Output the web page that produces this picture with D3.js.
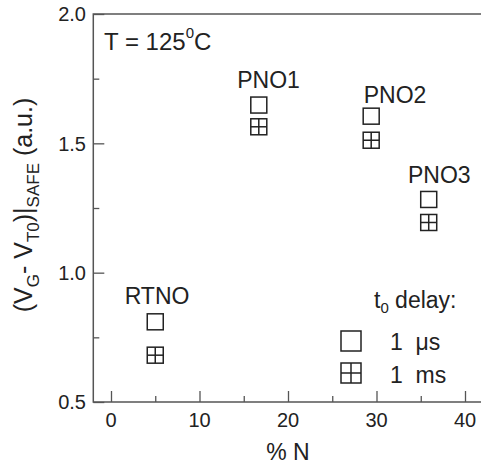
<!DOCTYPE html>
<html>
<head>
<meta charset="utf-8">
<script src="https://cdn.jsdelivr.net/npm/d3@7"></script>
<style>
  html, body { margin: 0; padding: 0; background: #fff; }
  svg { display: block; font-family: "Liberation Sans", Arial, Helvetica, sans-serif; }
</style>
</head>
<body>
<svg id="chart" width="481" height="465"></svg>
<script>
// ---- data ----
const samples = ["RTNO", "PNO1", "PNO2", "PNO3"];
const nitrogenPct = [5.0, 16.7, 29.4, 35.9];
const delay1us = [0.81, 1.648, 1.605, 1.283];
const delay1ms = [0.681, 1.564, 1.512, 1.194];
const xTicks = [0, 10, 20, 30, 40];
const xMinorTicks = [5, 15, 25, 35];
const yTicks = [0.5, 1.0, 1.5, 2.0];
const yMinorTicks = [0.75, 1.25, 1.75];
// annotation anchor points (data units) for the sample names
const labelX = [5.2, 17.8, 32.1, 37.1];
const labelY = [0.878, 1.714, 1.655, 1.346];

const svg = d3.select("#chart");
const ink = "#222";
const axisCol = "#555";

const x = d3.scaleLinear().domain([-2, 42]).range([93.3, 482.7]);
const y = d3.scaleLinear().domain([0.5, 2.0]).range([402, 14]);

// frame
svg.append("rect")
  .attr("x", x(-2)).attr("y", y(2.0))
  .attr("width", x(42) - x(-2) + 5).attr("height", y(0.5) - y(2.0))
  .attr("fill", "none").attr("stroke", axisCol).attr("stroke-width", 1.5);

// y axis
const yAxis = svg.append("g").attr("transform", `translate(${x(-2)},0)`)
  .call(d3.axisRight(y).tickValues(yTicks).tickSize(11).tickFormat(""));
yAxis.select(".domain").remove();
yAxis.selectAll("line").attr("stroke", axisCol).attr("stroke-width", 1.3);
const yAxisMinor = svg.append("g").attr("transform", `translate(${x(-2)},0)`)
  .call(d3.axisRight(y).tickValues(yMinorTicks).tickSize(6).tickFormat(""));
yAxisMinor.select(".domain").remove();
yAxisMinor.selectAll("line").attr("stroke", axisCol).attr("stroke-width", 1.3);
svg.append("g").selectAll("text").data(yTicks).join("text")
  .attr("x", 86).attr("y", d => y(d)).attr("dy", "0.36em")
  .attr("text-anchor", "end").attr("font-size", 20).attr("fill", ink)
  .text(d => d3.format(".1f")(d));

// x axis
const xAxis = svg.append("g").attr("transform", `translate(0,${y(0.5)})`)
  .call(d3.axisTop(x).tickValues(xTicks).tickSize(11).tickFormat(""));
xAxis.select(".domain").remove();
xAxis.selectAll("line").attr("stroke", axisCol).attr("stroke-width", 1.3);
const xAxisMinor = svg.append("g").attr("transform", `translate(0,${y(0.5)})`)
  .call(d3.axisTop(x).tickValues(xMinorTicks).tickSize(6).tickFormat(""));
xAxisMinor.select(".domain").remove();
xAxisMinor.selectAll("line").attr("stroke", axisCol).attr("stroke-width", 1.3);
svg.append("g").selectAll("text").data(xTicks).join("text")
  .attr("x", d => x(d)).attr("y", 427)
  .attr("text-anchor", "middle").attr("font-size", 20).attr("fill", ink)
  .text(d => d);

// axis titles
svg.append("text").attr("x", 288).attr("y", 460)
  .attr("text-anchor", "middle").attr("font-size", 23).attr("fill", ink)
  .text("% N");

const yl = svg.append("text")
  .attr("transform", "translate(32,205) rotate(-90)")
  .attr("text-anchor", "middle").attr("font-size", 25).attr("fill", ink);
yl.append("tspan").text("(V");
yl.append("tspan").attr("font-size", 17).attr("dy", 7).text("G");
yl.append("tspan").attr("dy", -7).text("- V");
yl.append("tspan").attr("font-size", 17).attr("dy", 7).text("T0");
yl.append("tspan").attr("dy", -7).text(")|");
yl.append("tspan").attr("font-size", 17).attr("dy", 7).text("SAFE");
yl.append("tspan").attr("dy", -7).text(" (a.u.)");

// temperature note
const tn = svg.append("text").attr("x", 104).attr("y", 49.5)
  .attr("font-size", 24).attr("fill", ink);
tn.append("tspan").text("T = 125");
tn.append("tspan").attr("font-size", 15).attr("dy", -12).text("0");
tn.append("tspan").attr("dy", 12).text("C");

// markers
const S = 16;
function openSquare(g, cx, cy, s) {
  g.append("rect").attr("x", cx - s / 2).attr("y", cy - s / 2)
    .attr("width", s).attr("height", s)
    .attr("fill", "none").attr("stroke", ink).attr("stroke-width", 1.5);
}
function crossSquare(g, cx, cy, s) {
  openSquare(g, cx, cy, s);
  g.append("line").attr("x1", cx).attr("x2", cx).attr("y1", cy - s / 2).attr("y2", cy + s / 2)
    .attr("stroke", ink).attr("stroke-width", 1.5);
  g.append("line").attr("x1", cx - s / 2).attr("x2", cx + s / 2).attr("y1", cy).attr("y2", cy)
    .attr("stroke", ink).attr("stroke-width", 1.5);
}
const mk = svg.append("g");
samples.forEach((s, i) => {
  openSquare(mk, x(nitrogenPct[i]), y(delay1us[i]), S);
  crossSquare(mk, x(nitrogenPct[i]), y(delay1ms[i]), S);
});

// sample labels
svg.append("g").selectAll("text").data(samples).join("text")
  .attr("x", (d, i) => x(labelX[i])).attr("y", (d, i) => y(labelY[i]))
  .attr("text-anchor", "middle").attr("font-size", 23).attr("fill", ink)
  .text(d => d);

// legend
const lg = svg.append("g");
const lt = lg.append("text").attr("x", 374).attr("y", 308).attr("font-size", 23).attr("fill", ink);
lt.append("tspan").text("t");
lt.append("tspan").attr("font-size", 15).attr("dy", 5).text("0");
lt.append("tspan").attr("dy", -5).text(" delay:");
openSquare(lg, 351, 341, 20);
crossSquare(lg, 351, 373, 20);
lg.append("text").attr("x", 390).attr("y", 350).attr("font-size", 23).attr("fill", ink)
  .attr("xml:space", "preserve").text("1  \u03bcs");
lg.append("text").attr("x", 390).attr("y", 382.5).attr("font-size", 23).attr("fill", ink)
  .attr("xml:space", "preserve").text("1  ms");
</script>
</body>
</html>
